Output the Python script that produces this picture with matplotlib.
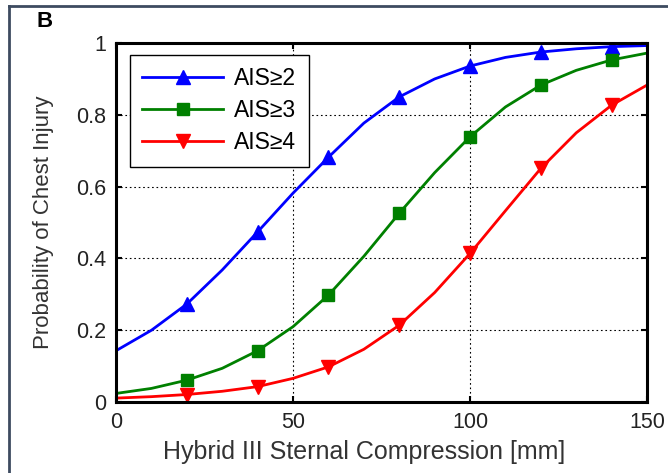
import numpy as np
import matplotlib
matplotlib.use("Agg")
import matplotlib.pyplot as plt
from matplotlib.lines import Line2D

# compression [mm] and read-off probabilities
compression = [0, 10, 20, 30, 40, 50, 60, 70, 80, 90, 100, 110, 120, 130, 140, 150]
p_ais2 = [0.143, 0.20, 0.273, 0.368, 0.474, 0.582, 0.682, 0.777, 0.85, 0.90, 0.936, 0.960, 0.975, 0.984, 0.99, 0.993]
p_ais3 = [0.024, 0.038, 0.061, 0.094, 0.143, 0.21, 0.298, 0.406, 0.526, 0.639, 0.739, 0.822, 0.883, 0.924, 0.953, 0.972]
p_ais4 = [0.011, 0.015, 0.021, 0.03, 0.043, 0.066, 0.098, 0.147, 0.214, 0.305, 0.414, 0.533, 0.651, 0.75, 0.827, 0.883]
labels = ["AIS\u22652", "AIS\u22653", "AIS\u22654"]

plt.rcParams["font.family"] = ["Liberation Sans", "DejaVu Sans"]

fig = plt.figure(figsize=(6.68, 4.73), dpi=100)
ax = fig.add_axes([0.1737, 0.150, 0.795, 0.759])

mk = slice(2, 15, 2)
ax.plot(compression, p_ais2, color="#0000ff", lw=2, marker="^", ms=10, markevery=mk, label=labels[0])
ax.plot(compression, p_ais3, color="#008000", lw=2, marker="s", ms=9, markevery=mk, label=labels[1])
ax.plot(compression, p_ais4, color="#ff0000", lw=2, marker="v", ms=10, markevery=mk, label=labels[2])

ax.set_xlim(0, 150)
ax.set_ylim(0, 1)
ax.set_xticks([0, 50, 100, 150])
ax.set_yticks([0, 0.2, 0.4, 0.6, 0.8, 1])
ax.set_yticklabels(["0", "0.2", "0.4", "0.6", "0.8", "1"])
ax.grid(True, color="black", linestyle=(0, (1.5, 2.5)), linewidth=0.8)
ax.tick_params(direction="in", top=True, right=True, labelsize=15.5, length=4, width=1.5,
               pad=7, labelcolor="#222222")
for s in ax.spines.values():
    s.set_linewidth(2.2)
ax.set_xlabel("Hybrid III Sternal Compression [mm]", fontsize=18, color="#333333")
ax.xaxis.set_label_coords(0.467, -0.105)
ax.set_ylabel("Probability of Chest Injury", fontsize=16, color="#333333", labelpad=16)

leg = ax.legend(loc="upper left", bbox_to_anchor=(0.026, 0.967), borderaxespad=0, fontsize=16.5,
                fancybox=False, edgecolor="black", framealpha=1, handlelength=3.5,
                labelspacing=0.38, borderpad=0.55, handletextpad=0.5)
leg.get_frame().set_linewidth(1.0)

fig.text(0.054, 0.955, "B", fontsize=16, fontweight="bold", ha="left", va="center")

# panel border (left and top edges)
fig.add_artist(Line2D([9 / 668, 9 / 668], [0, 1 - 6 / 473], transform=fig.transFigure, color="#3d4b60", lw=2))
fig.add_artist(Line2D([9 / 668, 1], [1 - 6 / 473, 1 - 6 / 473], transform=fig.transFigure, color="#3d4b60", lw=2))

fig.savefig("out.png", dpi=100)
